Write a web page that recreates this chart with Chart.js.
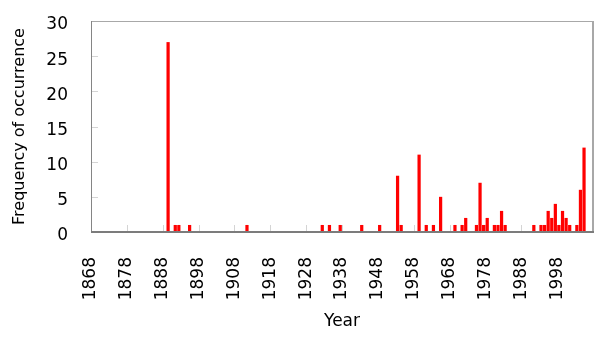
<!DOCTYPE html>
<html>
<head>
<meta charset="utf-8">
<script src="https://cdn.jsdelivr.net/npm/chart.js@4"></script>
<style>
  html, body { margin: 0; padding: 0; background: #ffffff; }
  #wrap { width: 600px; height: 342px; position: relative; }
</style>
</head>
<body>
<div id="wrap"><canvas id="c" width="600" height="342"></canvas></div>
<script>
// Years with at least one occurrence, and their frequency
const eventYears = [1889, 1891, 1892, 1895, 1911, 1932, 1934, 1937, 1943, 1948,
                    1953, 1954, 1959, 1961, 1963, 1965, 1969, 1971, 1972, 1975,
                    1976, 1977, 1978, 1980, 1981, 1982, 1983, 1991, 1993, 1994,
                    1995, 1996, 1997, 1998, 1999, 2000, 2001, 2003, 2004, 2005];
const eventCounts = [27, 1, 1, 1, 1, 1, 1, 1, 1, 1,
                     8, 1, 11, 1, 1, 5, 1, 1, 2, 1,
                     7, 1, 2, 1, 1, 3, 1, 1, 1, 1,
                     3, 2, 4, 1, 3, 2, 1, 1, 6, 12];
// Axis labels
const xTickLabels = ['1868', '1878', '1888', '1898', '1908', '1918', '1928',
                     '1938', '1948', '1958', '1968', '1978', '1988', '1998', ''];
const yTicks = [0, 5, 10, 15, 20, 25, 30];
const firstYear = 1868;
const lastYear = 2007;

const points = eventYears.map((yr, i) => ({ x: yr, y: eventCounts[i] }));

const framePlugin = {
  id: 'frame',
  beforeDatasetsDraw(chart) {
    const { ctx, chartArea: a, scales } = chart;
    ctx.save();
    ctx.strokeStyle = '#d4d4d4';
    ctx.lineWidth = 1;
    scales.x.ticks.forEach(t => {
      const px = Math.round(scales.x.getPixelForValue(t.value)) + 0.5;
      ctx.beginPath();
      ctx.moveTo(px, a.bottom - 7);
      ctx.lineTo(px, a.bottom);
      ctx.stroke();
    });
    scales.y.ticks.forEach(t => {
      const py = Math.round(scales.y.getPixelForValue(t.value)) + 0.5;
      ctx.beginPath();
      ctx.moveTo(a.left, py);
      ctx.lineTo(a.left + 7, py);
      ctx.stroke();
    });
    ctx.restore();
  },
  afterDatasetsDraw(chart) {
    const { ctx, chartArea: a } = chart;
    ctx.save();
    ctx.strokeStyle = '#a8a8a8';
    ctx.lineWidth = 1;
    ctx.beginPath();
    ctx.moveTo(a.left, Math.round(a.top) + 0.5);
    ctx.lineTo(a.right, Math.round(a.top) + 0.5);
    ctx.stroke();
    ctx.lineWidth = 2;
    ctx.beginPath();
    ctx.moveTo(Math.round(a.right), a.top);
    ctx.lineTo(Math.round(a.right), a.bottom);
    ctx.stroke();
    ctx.strokeStyle = '#858585';
    ctx.lineWidth = 1;
    ctx.beginPath();
    ctx.moveTo(Math.round(a.left) + 0.5, a.top);
    ctx.lineTo(Math.round(a.left) + 0.5, a.bottom);
    ctx.stroke();
    ctx.lineWidth = 2;
    ctx.strokeStyle = '#7c7c7c';
    ctx.beginPath();
    ctx.moveTo(a.left, Math.round(a.bottom));
    ctx.lineTo(a.right + 1, Math.round(a.bottom));
    ctx.stroke();
    ctx.restore();
  }
};

new Chart(document.getElementById('c'), {
  type: 'bar',
  data: {
    datasets: [{
      data: points,
      backgroundColor: '#ff0000',
      borderWidth: 0,
      categoryPercentage: 1.0,
      barPercentage: 0.9
    }]
  },
  options: {
    responsive: false,
    animation: false,
    events: [],
    layout: { padding: { left: 0, top: 21, right: 7, bottom: 0 } },
    plugins: { legend: { display: false }, tooltip: { enabled: false } },
    scales: {
      x: {
        type: 'linear',
        offset: false,
        min: firstYear - 0.5,
        max: lastYear + 0.5,
        afterBuildTicks(scale) {
          scale.ticks = xTickLabels.map((lab, i) => ({ value: firstYear - 0.5 + i * 10 }));
        },
        afterFit(scale) {
          scale.height = 110;
          scale.paddingLeft = 0; scale.paddingRight = 0;
          scale.paddingTop = 0; scale.paddingBottom = 0;
        },
        grid: { display: false, drawTicks: false },
        border: { display: false },
        ticks: {
          autoSkip: false,
          maxRotation: 90,
          minRotation: 90,
          padding: 25,
          color: '#000000',
          font: { family: 'DejaVu Sans', size: 17 },
          callback(value, index) { return xTickLabels[index]; }
        },
        title: {
          display: true,
          text: 'Year',
          color: '#000000',
          font: { family: 'DejaVu Sans', size: 17 },
          padding: { top: 0, bottom: 10 }
        }
      },
      y: {
        min: 0,
        max: 30,
        afterBuildTicks(scale) {
          scale.ticks = yTicks.map(v => ({ value: v }));
        },
        afterFit(scale) {
          scale.width = 91;
          scale.paddingLeft = 0; scale.paddingRight = 0;
          scale.paddingTop = 0; scale.paddingBottom = 0;
        },
        grid: { display: false, drawTicks: false },
        border: { display: false },
        ticks: {
          padding: 23,
          labelOffset: 4,
          color: '#000000',
          font: { family: 'DejaVu Sans', size: 17 }
        },
        title: {
          display: true,
          text: 'Frequency of occurrence',
          color: '#000000',
          font: { family: 'DejaVu Sans', size: 16 },
          padding: { top: 10, bottom: 0 }
        }
      }
    }
  },
  plugins: [framePlugin]
});
</script>
</body>
</html>
